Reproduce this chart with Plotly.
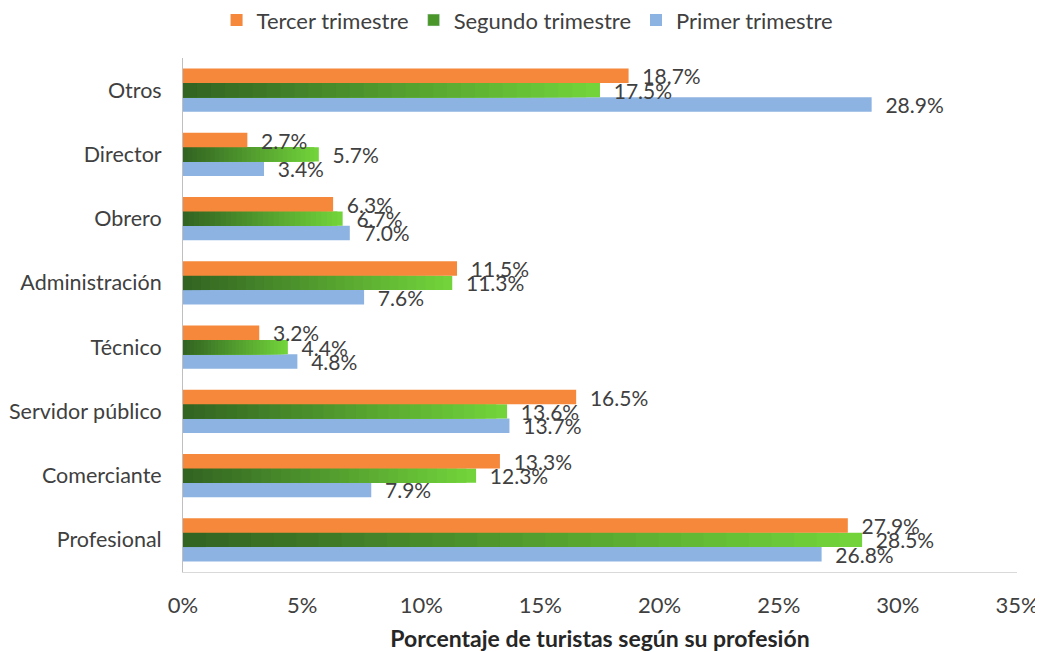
import plotly.graph_objects as go

categories = ["Profesional", "Comerciante", "Servidor público", "Técnico",
              "Administración", "Obrero", "Director", "Otros"]
primer = [26.8, 7.9, 13.7, 4.8, 7.6, 7.0, 3.4, 28.9]
segundo = [28.5, 12.3, 13.6, 4.4, 11.3, 6.7, 5.7, 17.5]
tercer = [27.9, 13.3, 16.5, 3.2, 11.5, 6.3, 2.7, 18.7]

font_family = "Lato, 'Open Sans', sans-serif"
label_font = dict(size=21, color="#404040", family=font_family)
label_tpl = "\u00a0\u00a0%{x:.1%}"

fig = go.Figure()

# Primer trimestre (bottom bar of each group)
fig.add_trace(go.Bar(
    y=categories, x=[v / 100 for v in primer], name="Primer trimestre",
    orientation="h", offsetgroup="g1",
    marker=dict(color="#8db3e2", line=dict(width=0)),
    texttemplate=label_tpl, textposition="outside", textfont=label_font,
    constraintext="none", cliponaxis=False,
))

# Segundo trimestre: legend entry + gradient-filled bars (dark left -> bright right)
fig.add_trace(go.Bar(
    y=[categories[0]], x=[None], name="Segundo trimestre", orientation="h",
    offsetgroup="g2", marker=dict(color="#4a962a"), hoverinfo="skip",
))
dark = (50, 100, 34)
bright = (114, 212, 58)
steps = 30
for k in range(steps, 0, -1):
    frac = k / steps
    t = (k - 1) / (steps - 1)
    col = "rgb(%d,%d,%d)" % tuple(round(d + (b - d) * t) for d, b in zip(dark, bright))
    fig.add_trace(go.Bar(
        y=categories, x=[v / 100 * frac for v in segundo], orientation="h",
        offsetgroup="g2", showlegend=False, hoverinfo="skip",
        marker=dict(color=col, line=dict(width=0)),
        texttemplate=label_tpl if k == steps else None,
        textposition="outside" if k == steps else "none",
        textfont=label_font, constraintext="none", cliponaxis=False,
    ))

# Tercer trimestre (top bar of each group)
fig.add_trace(go.Bar(
    y=categories, x=[v / 100 for v in tercer], name="Tercer trimestre",
    orientation="h", offsetgroup="g3",
    marker=dict(color="#f5883b", line=dict(width=0)),
    texttemplate=label_tpl, textposition="outside", textfont=label_font,
    constraintext="none", cliponaxis=False,
))

fig.update_layout(
    width=1035, height=644,
    paper_bgcolor="white", plot_bgcolor="white",
    barmode="group", bargap=0.33, bargroupgap=0,
    margin=dict(l=175, r=26, t=50, b=80),
    font=dict(family=font_family, size=21, color="#404040"),
    legend=dict(orientation="h", xref="container", yref="container",
                x=0.502, xanchor="center", y=0.981, yanchor="middle",
                traceorder="reversed", font=dict(size=22, color="#404040"),
                itemwidth=30),
    xaxis=dict(range=[0, 0.35], dtick=0.05, tickformat=".0%", showgrid=False,
               zeroline=False, showline=True, linecolor="#d9d9d9", linewidth=1,
               ticks="outside", ticklen=14, tickcolor="rgba(0,0,0,0)",
               tickfont=dict(size=22), automargin=False,
               title=dict(text="<b>Porcentaje de turistas según su profesión</b>",
                          font=dict(size=23, color="#262626"), standoff=16)),
    yaxis=dict(showgrid=False, zeroline=False, showline=True, linecolor="#bfbfbf",
               linewidth=1, ticks="outside", ticklen=16, tickcolor="rgba(0,0,0,0)",
               tickfont=dict(size=21.5), automargin=False),
)

fig.write_html("out.html")
